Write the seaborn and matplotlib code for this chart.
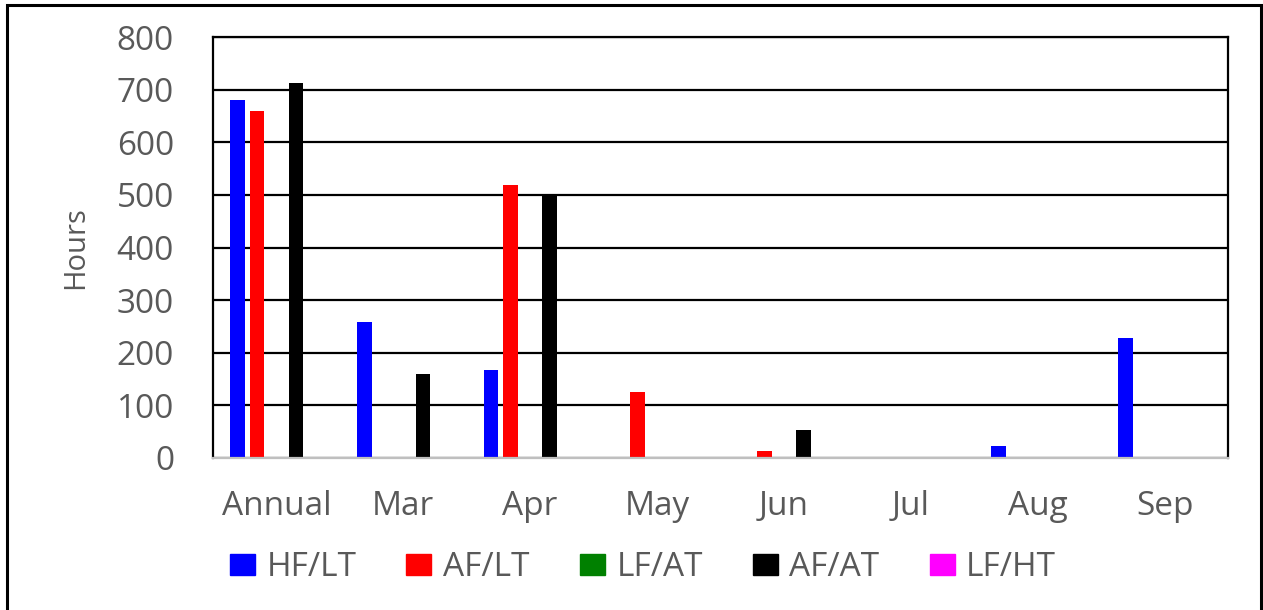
import matplotlib
matplotlib.use('Agg')
import matplotlib.pyplot as plt
import matplotlib.patches as mpatches
import seaborn as sns
import pandas as pd

# data
categories = ["Annual", "Mar", "Apr", "May", "Jun", "Jul", "Aug", "Sep"]
series = ["HF/LT", "AF/LT", "LF/AT", "AF/AT", "LF/HT"]
hf_lt = [680, 259, 167, 0, 0, 0, 23, 228]
af_lt = [660, 0, 519, 125, 13, 0, 0, 0]
lf_at = [0, 0, 0, 0, 0, 0, 0, 0]
af_at = [713, 160, 500, 0, 53, 0, 0, 0]
lf_ht = [0, 0, 0, 0, 0, 0, 0, 0]
colors = ["#0000ff", "#ff0000", "#008000", "#000000", "#ff00ff"]
y_ticks = [0, 100, 200, 300, 400, 500, 600, 700, 800]

rows = []
for name, vals in zip(series, [hf_lt, af_lt, lf_at, af_at, lf_ht]):
    for cat, v in zip(categories, vals):
        rows.append({"Month": cat, "Series": name, "Hours": v})
df = pd.DataFrame(rows)

sns.set_style("white")
plt.rcParams['font.family'] = ['Open Sans', 'DejaVu Sans']
text_col = "#595959"

fig = plt.figure(figsize=(12.63, 6.10), dpi=100)
ax = fig.add_axes([213 / 1263, 152 / 610, (1228 - 213) / 1263, (458 - 37) / 610])

sns.barplot(data=df, x="Month", y="Hours", hue="Series", order=categories,
            hue_order=series, palette=colors, width=0.77, gap=0.25,
            ax=ax, legend=False, saturation=1, edgecolor="none")

ax.set_ylim(0, 800)
ax.set_xlim(-0.5, len(categories) - 0.5)
ax.set_yticks(y_ticks)
ax.yaxis.grid(True, color="black", linewidth=1.6)
ax.set_axisbelow(True)
ax.tick_params(axis="both", length=0, labelsize=24, colors=text_col)
ax.tick_params(axis="x", pad=23)
ax.tick_params(axis="y", pad=28)
ax.set_xlabel("")
ax.set_ylabel("Hours", fontsize=21, color=text_col)
ax.yaxis.set_label_coords(-0.121, 0.5)

for side in ["left", "top", "right"]:
    ax.spines[side].set_color("black")
    ax.spines[side].set_linewidth(1.6)
ax.spines["bottom"].set_color("#bfbfbf")
ax.spines["bottom"].set_linewidth(1.6)

handles = [mpatches.Patch(color=c, label=s) for c, s in zip(colors, series)]
leg = fig.legend(handles=handles, loc="center", bbox_to_anchor=(643 / 1263, 1 - 568 / 610),
                 ncol=5, frameon=False, fontsize=24, handlelength=0.75, handleheight=0.6,
                 handletextpad=0.35, columnspacing=1.5)
for t in leg.get_texts():
    t.set_color(text_col)

# outer chart border
fig.patches.append(mpatches.Rectangle((7 / 1263, -0.01), (1261 - 7) / 1263, 1 - 5 / 610 + 0.01,
                                      transform=fig.transFigure, fill=False,
                                      edgecolor="black", linewidth=2.2))

plt.savefig("out.png", dpi=100)
plt.close()
